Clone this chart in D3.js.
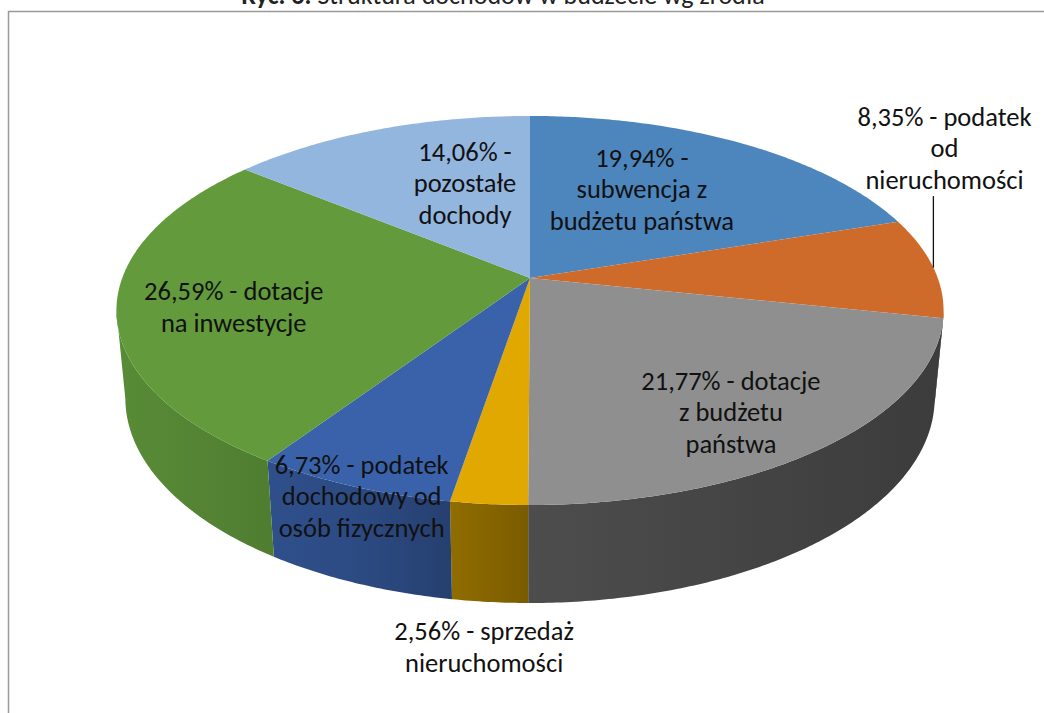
<!DOCTYPE html>
<html lang="pl">
<head>
<meta charset="UTF-8">
<script src="https://cdnjs.cloudflare.com/ajax/libs/d3/7.8.5/d3.min.js"></script>
<style>
    body { margin: 0; background: #fff; }
    svg { display: block; font-family: Calibri, Carlito, Lato, sans-serif; }
    .lbl { font-size: 26.5px; fill: #111; }
</style>
</head>
<body>
<svg width="1044" height="713"></svg>
<script>
// shares of budget income by source (clockwise from 12 o'clock)
const categories = ['subwencja z budżetu państwa', 'podatek od nieruchomości', 'dotacje z budżetu państwa',
    'sprzedaż nieruchomości', 'podatek dochodowy od osób fizycznych', 'dotacje na inwestycje', 'pozostałe dochody']
const shares = [19.94, 8.35, 21.77, 2.56, 6.73, 26.59, 14.06]
const labelLines = [
    ['19,94% -', 'subwencja z', 'budżetu państwa'],
    ['8,35% - podatek', 'od', 'nieruchomości'],
    ['21,77% - dotacje', 'z budżetu', 'państwa'],
    ['2,56% - sprzedaż', 'nieruchomości'],
    ['6,73% - podatek', 'dochodowy od', 'osób fizycznych'],
    ['26,59% - dotacje', 'na inwestycje'],
    ['14,06% -', 'pozostałe', 'dochody']
]
const colors = ['#4d86bd', '#cf6b2a', '#8f8f8f', '#e0a800', '#3a62ab', '#629a3c', '#93b6df']

// label anchors on the pie plane: angle (deg, clockwise from top) and radius (1 = edge)
const labelAngle = [30.3, 55.9, 145.2, 183.3, 199.7, 258.1, 342.4]
const labelRadius = [0.59, 1.387, 0.772, 1.474, 1.027, 0.724, 0.575]
const leader = [false, true, false, false, false, false, false]

const svg = d3.select('svg')

// frame + title (title is cut off at the top like in the source)
svg.append('rect')
    .attr('x', 8.5).attr('y', 11.5)
    .attr('width', 1200).attr('height', 900)
    .attr('fill', 'none').attr('stroke', '#9a9a9a').attr('stroke-width', 1.5)

const title = svg.append('text')
    .attr('x', 503).attr('y', 4)
    .attr('text-anchor', 'middle')
    .style('font-size', '26px').attr('fill', '#222')
title.append('tspan').attr('font-weight', 'bold').text('Ryc. 6.')
title.append('tspan').text(' Struktura dochodów w budżecie wg źródła')

// simple perspective camera
const cam = {cx: 530, cy: 278, f: 2164, d: 5.307, tilt: 27.63 * Math.PI / 180, thick: 0.2453}
const sT = Math.sin(cam.tilt), cT = Math.cos(cam.tilt)

function project(phi, r, h) {
    const x = r * Math.sin(phi), z = -r * Math.cos(phi), y = h
    const dep = cam.d - y * sT - z * cT
    return [cam.cx + cam.f * x / dep, cam.cy - cam.f * (y * cT - z * sT) / dep]
}

const pie = d3.pie().sort(null).value(d => d)
const arcs = pie(shares)
const line = d3.line()

function arcPts(a0, a1, r, h) {
    const n = Math.max(2, Math.ceil((a1 - a0) / 0.01))
    return d3.range(n + 1).map(i => project(a0 + (a1 - a0) * i / n, r, h))
}

// side wall gradients (lit from the left)
const left = project(-Math.PI / 2, 1, 0)[0], right = project(Math.PI / 2, 1, 0)[0]
const defs = svg.append('defs')
const shade = [[0, 0.9], [0.3, 0.76], [0.5, 0.54], [1, 0.42]]
colors.forEach((col, i) => {
    const g = defs.append('linearGradient')
        .attr('id', 'side' + i)
        .attr('gradientUnits', 'userSpaceOnUse')
        .attr('x1', left).attr('x2', right).attr('y1', 0).attr('y2', 0)
    const c = d3.rgb(col)
    shade.forEach(([o, k]) => {
        g.append('stop').attr('offset', o)
            .attr('stop-color', d3.rgb(c.r * k, c.g * k, c.b * k).formatHex())
    })
})

// visible part of the outer wall
const vis0 = Math.acos(-cT / cam.d), vis1 = 2 * Math.PI - vis0

svg.append('g').selectAll('path')
    .data(arcs.filter(a => a.endAngle > vis0 && a.startAngle < vis1))
    .enter()
    .append('path')
    .attr('d', a => {
        const a0 = Math.max(a.startAngle, vis0), a1 = Math.min(a.endAngle, vis1)
        const pts = arcPts(a0, a1, 1, 0).concat(arcPts(a0, a1, 1, -cam.thick).reverse())
        return line(pts) + 'Z'
    })
    .attr('fill', a => 'url(#side' + a.index + ')')

// top face
svg.append('g').selectAll('path')
    .data(arcs)
    .enter()
    .append('path')
    .attr('d', a => line([project(0, 0, 0)].concat(arcPts(a.startAngle, a.endAngle, 1, 0))) + 'Z')
    .attr('fill', (a, i) => colors[i])

// leader lines
const lineH = 31.5
arcs.forEach((a, i) => {
    if (!leader[i]) return
    const mid = (a.startAngle + a.endAngle) / 2
    const edge = project(mid, 1, 0)
    const lab = project(labelAngle[i] * Math.PI / 180, labelRadius[i], 0)
    const bottom = lab[1] + labelLines[i].length * lineH / 2 + 1
    svg.append('line')
        .attr('x1', edge[0]).attr('x2', edge[0])
        .attr('y1', edge[1]).attr('y2', bottom)
        .attr('stroke', '#111').attr('stroke-width', 1.3)
})

// data labels
arcs.forEach((a, i) => {
    const p = project(labelAngle[i] * Math.PI / 180, labelRadius[i], 0)
    const n = labelLines[i].length
    const t = svg.append('text')
        .attr('class', 'lbl')
        .attr('text-anchor', 'middle')
    labelLines[i].forEach((s, k) => {
        t.append('tspan')
            .attr('x', p[0])
            .attr('y', p[1] + (k - (n - 1) / 2) * lineH)
            .attr('dy', '0.35em')
            .text(s)
    })
})
</script>
</body>
</html>
